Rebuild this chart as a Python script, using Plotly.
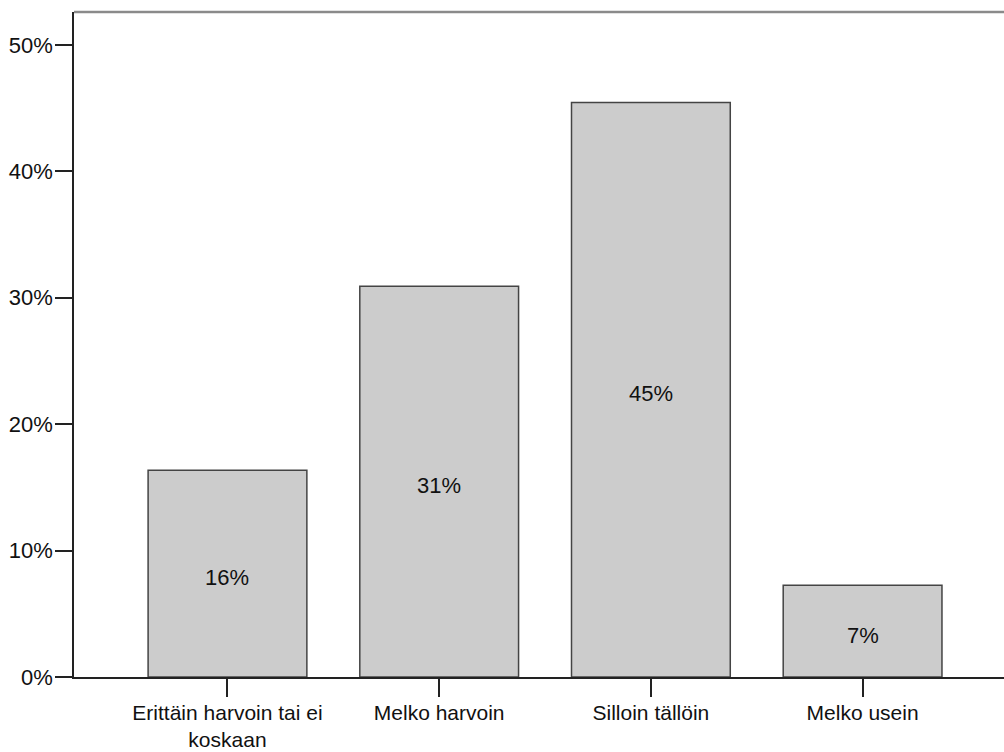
import plotly.graph_objects as go

categories = ["Erittäin harvoin tai ei<br>koskaan", "Melko harvoin", "Silloin tällöin", "Melko usein"]
values = [16.35, 30.9, 45.45, 7.25]
labels = ["16%", "31%", "45%", "7%"]
y_ticks = [0, 10, 20, 30, 40, 50]
y_tick_text = ["0%", "10%", "20%", "30%", "40%", "50%"]

FONT = "Liberation Sans, Arial, sans-serif"
FS = 22

xs = list(range(len(categories)))
fig = go.Figure(go.Bar(
    x=xs,
    y=values,
    marker=dict(color="#cccccc", line=dict(color="#444444", width=1.5)),
    width=0.75,
    hoverinfo="skip",
))

for x, v, t in zip(xs, values, labels):
    fig.add_annotation(x=x, y=v / 2, text=t, showarrow=False, yshift=-4,
                       font=dict(family=FONT, size=FS, color="#111111"))

fig.update_layout(
    width=1004, height=752,
    margin=dict(l=74, r=0, t=12, b=75),
    paper_bgcolor="white", plot_bgcolor="white",
    font=dict(family=FONT, size=FS, color="#111111"),
    showlegend=False,
)
fig.update_xaxes(
    range=[-0.725, 3.668], automargin=False,
    tickmode="array", tickvals=xs, ticktext=categories,
    tickfont=dict(size=21),
    ticks="outside", ticklen=18, tickcolor="#222222", tickwidth=1.5,
    ticklabelstandoff=-2,
    showline=True, linecolor="#222222", linewidth=1.5,
    showgrid=False, zeroline=False,
)
fig.update_yaxes(
    range=[0, 52.6], automargin=False,
    tickmode="array", tickvals=y_ticks, ticktext=y_tick_text,
    ticks="outside", ticklen=17, tickcolor="#222222", tickwidth=1.5,
    ticklabelstandoff=-2,
    showline=True, linecolor="#222222", linewidth=1.5,
    showgrid=False, zeroline=False,
)
fig.add_shape(type="line", xref="paper", yref="paper", x0=0, x1=1, y0=1, y1=1,
              line=dict(color="#8a8a8a", width=2.5))

fig.write_html("out.html")
